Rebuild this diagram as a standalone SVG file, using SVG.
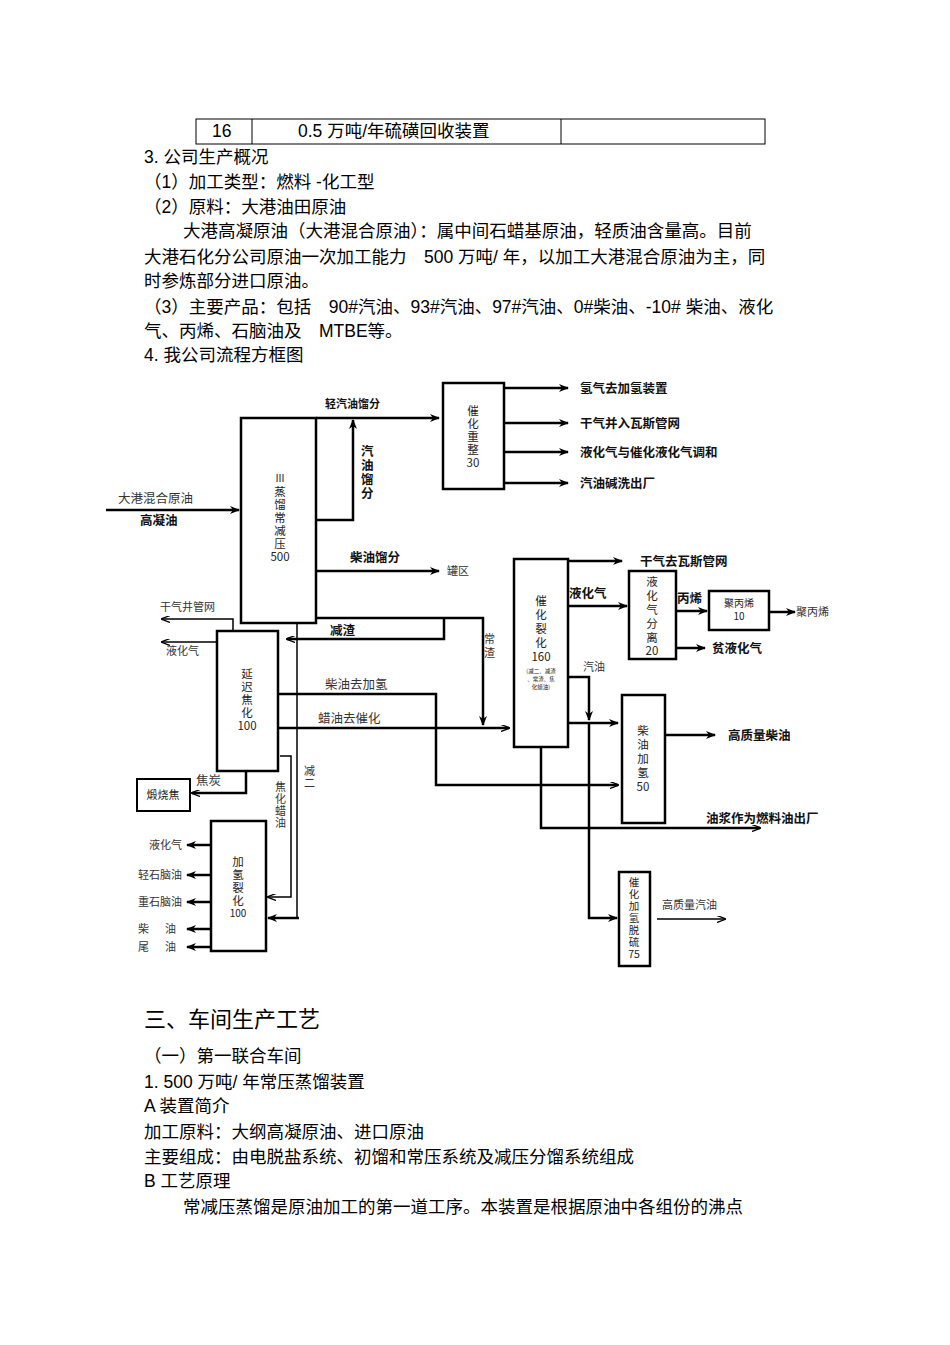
<svg xmlns="http://www.w3.org/2000/svg" width="950" height="1345" viewBox="0 0 950 1345">
<defs>
<marker id="ah" markerWidth="10" markerHeight="8" refX="9" refY="4" orient="auto" markerUnits="userSpaceOnUse"><path d="M0,0 L10,4 L0,8 L3,4 z" fill="#000"/></marker>
<marker id="as" markerWidth="9" markerHeight="7" refX="8" refY="3.5" orient="auto" markerUnits="userSpaceOnUse"><path d="M0,0 L9,3.5 L0,7" fill="none" stroke="#000" stroke-width="1.3"/></marker>
<style>
.body{font-family:"Liberation Sans","Noto Sans CJK SC",sans-serif;font-size:17.5px;fill:#000}
.h{font-family:"Liberation Sans","Noto Sans CJK SC",sans-serif;font-size:22px;fill:#000}
.lb{font-family:"Noto Sans CJK SC",sans-serif;font-size:12.5px;font-weight:bold;fill:#111}
.lt{font-family:"Noto Sans CJK SC",sans-serif;font-size:11px;fill:#333}
.bx{font-family:"Noto Sans CJK SC",sans-serif;font-size:11.5px;fill:#222;text-anchor:middle}
.box{fill:#fff;stroke:#000;stroke-width:2.5}
.ln{fill:none;stroke:#000;stroke-width:2.5}
.tn{fill:none;stroke:#000;stroke-width:1.5}
</style>
</defs>
<rect width="950" height="1345" fill="#fff"/>
<g id="table" stroke="#000" stroke-width="1" fill="none">
<rect x="196" y="119" width="569" height="25"/>
<line x1="252" y1="119" x2="252" y2="144"/><line x1="561" y1="119" x2="561" y2="144"/>
</g>
<text class="body" x="212" y="137">16</text>
<text class="body" x="298" y="137">0.5 万吨/年硫磺回收装置</text>
<g id="text-top">
<text class="body" x="144" y="163">3. 公司生产概况</text>
<text class="body" x="144" y="188">（1）加工类型：燃料 -化工型</text>
<text class="body" x="144" y="213">（2）原料：大港油田原油</text>
<text class="body" x="183" y="237">大港高凝原油（大港混合原油）：属中间石蜡基原油，轻质油含量高。目前</text>
<text class="body" x="144" y="263">大港石化分公司原油一次加工能力　500 万吨/ 年，以加工大港混合原油为主，同</text>
<text class="body" x="144" y="287">时参炼部分进口原油。</text>
<text class="body" x="144" y="313">（3）主要产品：包括　90#汽油、93#汽油、97#汽油、0#柴油、-10# 柴油、液化</text>
<text class="body" x="144" y="337">气、丙烯、石脑油及　MTBE等。</text>
<text class="body" x="144" y="361">4. 我公司流程方框图</text>
</g>
<g id="connectors">
<line class="ln" x1="106" y1="510" x2="239" y2="510" marker-end="url(#ah)"/>
<line class="ln" x1="316" y1="418" x2="439" y2="418" marker-end="url(#ah)"/>
<polyline class="ln" points="316,520 353,520 353,420" marker-end="url(#ah)"/>
<line class="ln" x1="316" y1="571" x2="439" y2="571" marker-end="url(#ah)"/>
<line class="ln" x1="504" y1="388" x2="568" y2="388" marker-end="url(#ah)"/>
<line class="ln" x1="504" y1="423" x2="568" y2="423" marker-end="url(#ah)"/>
<line class="ln" x1="504" y1="452" x2="568" y2="452" marker-end="url(#ah)"/>
<line class="ln" x1="504" y1="483" x2="568" y2="483" marker-end="url(#ah)"/>
<polyline class="ln" points="316,618 483,618 483,725" marker-end="url(#ah)"/>
<polyline class="ln" points="444,618 444,639 287,639" marker-end="url(#as)"/>
<polyline class="tn" points="297,623 297,918"/>
<line class="ln" x1="299" y1="918" x2="268" y2="918" marker-end="url(#ah)"/>
<polyline class="tn" points="280,756 291,756 291,897 268,897" marker-end="url(#as)"/>
<polyline class="tn" points="233,631 233,619 162,619" marker-end="url(#as)"/>
<line class="tn" x1="217" y1="642" x2="162" y2="642" marker-end="url(#as)"/>
<polyline class="ln" points="278,694 436,694 436,785 618,785" marker-end="url(#as)"/>
<line class="ln" x1="278" y1="728" x2="509" y2="728" marker-end="url(#as)"/>
<polyline class="ln" points="246,771 246,793 192,793" marker-end="url(#as)"/>
<line class="ln" x1="211" y1="845" x2="187" y2="845" marker-end="url(#ah)"/>
<line class="ln" x1="211" y1="875" x2="187" y2="875" marker-end="url(#ah)"/>
<line class="ln" x1="211" y1="902" x2="187" y2="902" marker-end="url(#ah)"/>
<line class="ln" x1="211" y1="929" x2="187" y2="929" marker-end="url(#ah)"/>
<line class="ln" x1="211" y1="947" x2="187" y2="947" marker-end="url(#ah)"/>
<line class="ln" x1="568" y1="561" x2="622" y2="561" marker-end="url(#ah)"/>
<line class="ln" x1="568" y1="606" x2="627" y2="606" marker-end="url(#ah)"/>
<line class="ln" x1="676" y1="611" x2="707" y2="611" marker-end="url(#ah)"/>
<line class="ln" x1="769" y1="612" x2="795" y2="612" marker-end="url(#ah)"/>
<line class="ln" x1="676" y1="648" x2="705" y2="648" marker-end="url(#ah)"/>
<polyline class="ln" points="568,677 589,677 589,720" marker-end="url(#ah)"/>
<polyline class="ln" points="589,722 589,918 617,918" marker-end="url(#ah)"/>
<line class="ln" x1="568" y1="723" x2="618" y2="723" marker-end="url(#ah)"/>
<line class="ln" x1="665" y1="735" x2="715" y2="735" marker-end="url(#ah)"/>
<polyline class="ln" points="541,747 541,828 760,828" marker-end="url(#as)"/>
<line class="tn" x1="657" y1="919" x2="725" y2="919" marker-end="url(#as)"/>
</g>
<g id="n-iii"><rect class="box" x="241" y="418" width="75" height="205"/>
<text class="bx" x="280" y="482" style="font-size:10px">Ⅲ</text><text class="bx" x="280" y="496">蒸</text><text class="bx" x="280" y="509">馏</text><text class="bx" x="280" y="522">常</text><text class="bx" x="280" y="535">减</text><text class="bx" x="280" y="548">压</text><text class="bx" x="280" y="561">500</text></g>
<g id="n-reform"><rect class="box" x="443" y="383" width="61" height="106"/>
<text class="bx" x="473" y="415">催</text><text class="bx" x="473" y="428">化</text><text class="bx" x="473" y="441">重</text><text class="bx" x="473" y="454">整</text><text class="bx" x="473" y="467">30</text></g>
<g id="n-coker"><rect class="box" x="217" y="631" width="61" height="140"/>
<text class="bx" x="247" y="678">延</text><text class="bx" x="247" y="691">迟</text><text class="bx" x="247" y="704">焦</text><text class="bx" x="247" y="717">化</text><text class="bx" x="247" y="730">100</text></g>
<g id="n-calc"><rect x="137" y="779" width="53" height="32" fill="#fff" stroke="#000" stroke-width="2"/><text class="bx" x="163" y="799" style="font-size:11px">煅烧焦</text></g>
<g id="n-hc"><rect class="box" x="211" y="821" width="55" height="130"/>
<text class="bx" x="238" y="866">加</text><text class="bx" x="238" y="879">氢</text><text class="bx" x="238" y="892">裂</text><text class="bx" x="238" y="905">化</text><text class="bx" x="238" y="917" style="font-size:10px">100</text></g>
<g id="n-fcc"><rect class="box" x="514" y="559" width="54" height="188"/>
<text class="bx" x="541" y="605">催</text><text class="bx" x="541" y="619">化</text><text class="bx" x="541" y="633">裂</text><text class="bx" x="541" y="647">化</text><text class="bx" x="541" y="661">160</text>
<text class="bx" x="541" y="673" style="font-size:5.5px">(减二、减渣</text><text class="bx" x="541" y="681" style="font-size:5.5px">、常渣、焦</text><text class="bx" x="541" y="689" style="font-size:5.5px">化蜡油)</text></g>
<g id="n-lpgsep"><rect class="box" x="629" y="571" width="47" height="88"/>
<text class="bx" x="652" y="586">液</text><text class="bx" x="652" y="600">化</text><text class="bx" x="652" y="614">气</text><text class="bx" x="652" y="628">分</text><text class="bx" x="652" y="642">离</text><text class="bx" x="652" y="655">20</text></g>
<g id="n-pp"><rect class="box" x="709" y="591" width="60" height="39"/><text class="bx" x="739" y="607" style="font-size:10px">聚丙烯</text><text class="bx" x="739" y="620" style="font-size:10px">10</text></g>
<g id="n-dht"><rect class="box" x="622" y="695" width="43" height="128"/>
<text class="bx" x="643" y="735">柴</text><text class="bx" x="643" y="749">油</text><text class="bx" x="643" y="763">加</text><text class="bx" x="643" y="777">氢</text><text class="bx" x="643" y="791">50</text></g>
<g id="n-hds"><rect class="box" x="619" y="872" width="31" height="94"/>
<text class="bx" x="634" y="886" style="font-size:10.5px">催</text><text class="bx" x="634" y="898" style="font-size:10.5px">化</text><text class="bx" x="634" y="910" style="font-size:10.5px">加</text><text class="bx" x="634" y="922" style="font-size:10.5px">氢</text><text class="bx" x="634" y="934" style="font-size:10.5px">脱</text><text class="bx" x="634" y="946" style="font-size:10.5px">硫</text><text class="bx" x="634" y="958" style="font-size:10.5px">75</text></g>
<g id="labels">
<text class="lt" x="118" y="503" style="font-size:12.5px">大港混合原油</text>
<text class="lb" x="140" y="525">高凝油</text>
<text class="lb" x="325" y="408" style="font-size:11px">轻汽油馏分</text>
<text class="lb" x="361" y="456">汽</text><text class="lb" x="361" y="470">油</text><text class="lb" x="361" y="484">馏</text><text class="lb" x="361" y="498">分</text>
<text class="lb" x="350" y="562">柴油馏分</text>
<text class="lt" x="447" y="575">罐区</text>
<text class="lb" x="580" y="393">氢气去加氢装置</text>
<text class="lb" x="580" y="428">干气并入瓦斯管网</text>
<text class="lb" x="580" y="457">液化气与催化液化气调和</text>
<text class="lb" x="580" y="488">汽油碱洗出厂</text>
<text class="lb" x="330" y="635">减渣</text>
<text class="lt" x="484" y="643">常</text><text class="lt" x="484" y="657">渣</text>
<text class="lt" x="160" y="611">干气井管网</text>
<text class="lt" x="166" y="655">液化气</text>
<text class="lt" x="325" y="689" style="font-size:12.5px">柴油去加氢</text>
<text class="lt" x="318" y="723" style="font-size:12.5px">蜡油去催化</text>
<text class="lt" x="196" y="785" style="font-size:12.5px">焦炭</text>
<text class="lt" x="304" y="775">减</text><text class="lt" x="304" y="787">二</text>
<text class="lt" x="275" y="791">焦</text><text class="lt" x="275" y="803">化</text><text class="lt" x="275" y="815">蜡</text><text class="lt" x="275" y="827">油</text>
<text class="lt" x="182" y="849" text-anchor="end">液化气</text>
<text class="lt" x="182" y="879" text-anchor="end">轻石脑油</text>
<text class="lt" x="182" y="906" text-anchor="end">重石脑油</text>
<text class="lt" x="138" y="933">柴</text><text class="lt" x="165" y="933">油</text>
<text class="lt" x="138" y="951">尾</text><text class="lt" x="165" y="951">油</text>
<text class="lb" x="640" y="566">干气去瓦斯管网</text>
<text class="lb" x="569" y="598">液化气</text>
<text class="lb" x="677" y="603">丙烯</text>
<text class="lt" x="796" y="616">聚丙烯</text>
<text class="lb" x="712" y="653">贫液化气</text>
<text class="lt" x="583" y="671">汽油</text>
<text class="lb" x="728" y="740">高质量柴油</text>
<text class="lb" x="706" y="823">油浆作为燃料油出厂</text>
<text class="lt" x="662" y="909">高质量汽油</text>
</g>
<g id="text-bottom">
<text class="h" x="144" y="1027">三、车间生产工艺</text>
<text class="body" x="144" y="1062">（一）第一联合车间</text>
<text class="body" x="144" y="1088">1.  500 万吨/ 年常压蒸馏装置</text>
<text class="body" x="144" y="1112">A 装置简介</text>
<text class="body" x="144" y="1138">加工原料：大纲高凝原油、进口原油</text>
<text class="body" x="144" y="1163">主要组成：由电脱盐系统、初馏和常压系统及减压分馏系统组成</text>
<text class="body" x="144" y="1187">B 工艺原理</text>
<text class="body" x="183" y="1213">常减压蒸馏是原油加工的第一道工序。本装置是根据原油中各组份的沸点</text>
</g>
</svg>
